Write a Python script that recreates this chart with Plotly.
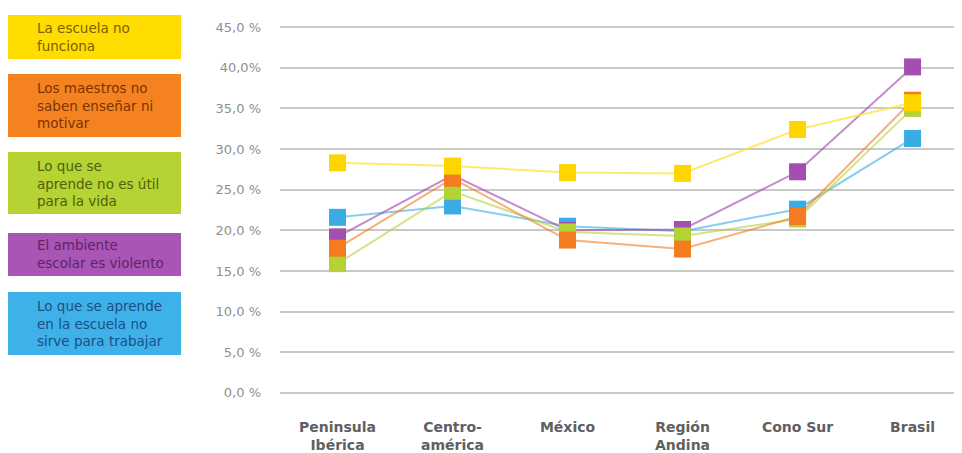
import plotly.graph_objects as go

categories = ["Peninsula<br>Ibérica", "Centro-<br>américa", "México", "Región<br>Andina", "Cono Sur", "Brasil"]

series_names = [
    "La escuela no<br>funciona",
    "Los maestros no<br>saben enseñar ni<br>motivar",
    "Lo que se<br>aprende no es útil<br>para la vida",
    "El ambiente<br>escolar es violento",
    "Lo que se aprende<br>en la escuela no<br>sirve para trabajar",
]

escuela_no_funciona = [28.3, 27.9, 27.1, 27.0, 32.4, 35.7]
maestros_no_ensenan = [17.8, 26.4, 18.8, 17.7, 21.7, 36.0]
no_util_vida = [15.9, 24.8, 19.8, 19.3, 21.4, 35.0]
ambiente_violento = [19.2, 26.8, 20.0, 20.1, 27.2, 40.1]
no_sirve_trabajar = [21.6, 23.0, 20.5, 19.9, 22.6, 31.3]

values = [escuela_no_funciona, maestros_no_ensenan, no_util_vida, ambiente_violento, no_sirve_trabajar]

tick_values = [0, 5, 10, 15, 20, 25, 30, 35, 40, 45]
tick_labels = ["0,0 %", "5,0 %", "10,0 %", "15,0 %", "20,0 %", "25,0 %", "30,0 %", "35,0 %", "40,0%", "45,0 %"]

marker_colors = ["#FFD500", "#F47B20", "#B3D335", "#A24FAF", "#39ACE5"]
line_colors = ["rgba(255,225,60,0.75)", "rgba(244,123,32,0.6)", "rgba(179,211,53,0.6)",
               "rgba(162,79,175,0.65)", "rgba(57,172,229,0.6)"]
box_colors = ["#FFDD00", "#F58220", "#B5D333", "#A855B5", "#3DB1E8"]
text_colors = ["#7A5E00", "#7A3300", "#4E5E10", "#5E2468", "#1E4E86"]

# page is offset by the 8px body margin
W, H = 954, 445
L, R, T, B = 272, 0, 15, 56
pw, ph = W - L - R, H - T - B

def px_x(x):
    return (x - L) / pw

def px_y(y):
    return (H - B - y) / ph

fig = go.Figure()
draw_order = [4, 3, 2, 1, 0]
for i in draw_order:
    fig.add_trace(go.Scatter(
        x=list(range(len(categories))), y=values[i], mode="lines+markers",
        name=series_names[i].replace("<br>", " "),
        line=dict(color=line_colors[i], width=2),
        marker=dict(symbol="square", size=17, color=marker_colors[i], line=dict(width=0)),
        showlegend=False,
    ))

boxes = [(7, 51), (66, 129), (144, 206), (225, 268), (284, 347)]
shapes = []
annotations = []
for i, (y0, y1) in enumerate(boxes):
    shapes.append(dict(type="rect", xref="paper", yref="paper",
                       x0=px_x(0), x1=px_x(173), y0=px_y(y1), y1=px_y(y0),
                       fillcolor=box_colors[i], line=dict(width=0), layer="above"))
    annotations.append(dict(xref="paper", yref="paper", x=px_x(27), y=px_y((y0 + y1) / 2),
                            xanchor="left", yanchor="middle", align="left",
                            text=series_names[i], showarrow=False,
                            font=dict(family="DejaVu Sans", size=13.5, color=text_colors[i])))

fig.update_layout(
    width=W, height=H,
    margin=dict(l=L, r=R, t=T, b=B),
    paper_bgcolor="white", plot_bgcolor="white",
    shapes=shapes, annotations=annotations,
    xaxis=dict(
        tickmode="array", tickvals=list(range(len(categories))), ticktext=categories,
        range=[-0.5, 5.43], showgrid=False, zeroline=False, showline=False,
        tickfont=dict(family="DejaVu Sans", size=14, color="#606060", weight="bold"),
        ticklabelstandoff=20,
    ),
    yaxis=dict(
        range=[-0.5, 45.5], tickmode="array", tickvals=tick_values, ticktext=tick_labels,
        showgrid=True, gridcolor="#C9C9C9", gridwidth=2, zeroline=False, showline=False,
        tickfont=dict(family="DejaVu Sans", size=13, color="#8F8F8F"),
        ticklabelstandoff=18,
    ),
)

fig.write_html("out.html")
